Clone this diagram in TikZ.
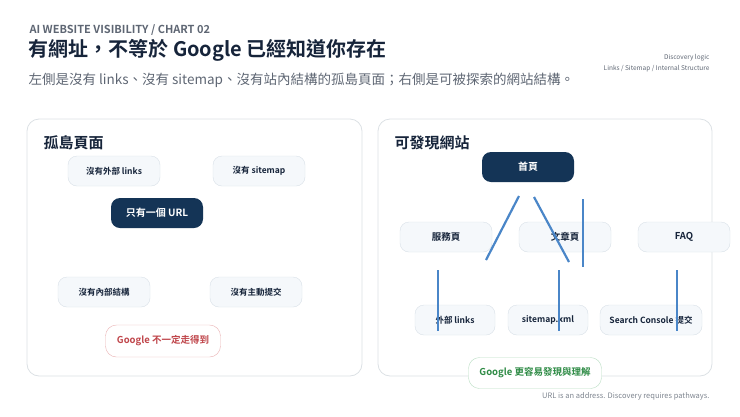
\documentclass[tikz,border=0pt]{standalone}
\usepackage{fontspec}
\setmainfont{Noto Sans CJK TC}
\newfontfamily\cjkb{Noto Sans CJK TC Bold}
\definecolor{ink}{HTML}{16243A}
\definecolor{navy}{HTML}{143456}
\definecolor{greyt}{HTML}{5E6673}
\definecolor{boxf}{HTML}{F5F8FB}
\definecolor{boxd}{HTML}{D9E1E8}
\definecolor{panel}{HTML}{DCE1E5}
\definecolor{redt}{HTML}{C0464B}
\definecolor{redb}{HTML}{EAB3B5}
\definecolor{greent}{HTML}{2E8B45}
\definecolor{greenb}{HTML}{B9DEC3}
\definecolor{linkb}{HTML}{4A86C8}
\tikzset{
 panelbox/.style={draw=panel,line width=0.8pt,rounded corners=12pt,fill=white},
 lightbox/.style={draw=boxd,fill=boxf,rounded corners=9pt,minimum height=30pt,font=\cjkb\fontsize{8.5}{9}\selectfont,text=ink,inner sep=2pt},
 darkbox/.style={fill=navy,rounded corners=9pt,minimum height=30pt,minimum width=92pt,font=\cjkb\fontsize{10}{11}\selectfont,text=white},
 redbox/.style={draw=redb,fill=white,rounded corners=11pt,minimum height=32pt,minimum width=115pt,font=\cjkb\fontsize{9.5}{10}\selectfont,text=redt},
 greenbox/.style={draw=greenb,fill=white,rounded corners=11pt,minimum height=31pt,minimum width=133pt,font=\cjkb\fontsize{9.5}{10}\selectfont,text=greent},
 bluel/.style={draw=linkb,line width=2.2pt},
}
\begin{document}
\begin{tikzpicture}[x=1pt,y=-1pt]
\useasboundingbox (0,0) rectangle (740,416);
\node[anchor=west,text=greyt,font=\cjkb\fontsize{11}{12}\selectfont] (kick) at (26,30) {AI WEBSITE VISIBILITY / CHART 02};
\node[anchor=west,text=ink,font=\cjkb\fontsize{20}{22}\selectfont] (title) at (25,50) {有網址，不等於 Google 已經知道你存在};
\node[anchor=west,text=greyt,font=\fontsize{13.5}{15}\selectfont] (sub) at (25,80) {左側是沒有 links、沒有 sitemap、沒有站內結構的孤島頁面；右側是可被探索的網站結構。};
\node[anchor=east,text=greyt,font=\fontsize{6.5}{7}\selectfont] (r1) at (713,58) {Discovery logic};
\node[anchor=east,text=greyt,font=\fontsize{6.5}{7}\selectfont] (r2) at (713,69) {Links / Sitemap / Internal Structure};
\draw[panelbox] (27,119) rectangle (362,376);
\draw[panelbox] (378,119) rectangle (712,376);
\node[anchor=west,text=ink,font=\cjkb\fontsize{15}{16}\selectfont] (lt) at (40,143) {孤島頁面};
\node[anchor=west,text=ink,font=\cjkb\fontsize{15}{16}\selectfont] (rt) at (391,143) {可發現網站};
\node[lightbox,minimum width=92pt] (a1) at (114,171) {沒有外部 links};
\node[lightbox,minimum width=92pt] (a2) at (259,171) {沒有 sitemap};
\node[darkbox] (url) at (157,213) {只有一個 URL};
\node[lightbox,minimum width=92pt] (a3) at (104,292) {沒有內部結構};
\node[lightbox,minimum width=92pt] (a4) at (256,292) {沒有主動提交};
\node[redbox] (red) at (163,341) {Google 不一定走得到};
\node[darkbox] (home) at (528,167) {首頁};
\node[lightbox,minimum width=92pt,font=\cjkb\fontsize{9.5}{10}\selectfont] (s1) at (446,237) {服務頁};
\node[lightbox,minimum width=92pt,font=\cjkb\fontsize{9.5}{10}\selectfont] (s2) at (565,237) {文章頁};
\node[lightbox,minimum width=92pt,font=\cjkb\fontsize{9.5}{10}\selectfont] (s3) at (684,237) {FAQ};
\node[lightbox,minimum width=80pt] (b1) at (455,320) {外部 links};
\node[lightbox,minimum width=80pt] (b2) at (548,320) {sitemap.xml};
\node[lightbox,minimum width=102pt] (b3) at (651,320) {Search Console 提交};
\node[greenbox] (green) at (535,373) {Google 更容易發現與理解};
\coordinate (l1a) at (519,196); \coordinate (l1b) at (486,260);
\coordinate (l2a) at (534,197); \coordinate (l2b) at (569,262);
\coordinate (l3a) at (583,199); \coordinate (l3b) at (583,267);
\coordinate (l4a) at (438,270); \coordinate (l4b) at (438,331);
\coordinate (l5a) at (559,270); \coordinate (l5b) at (559,331);
\coordinate (l6a) at (677,270); \coordinate (l6b) at (677,331);
\draw[bluel] (l1a) -- (l1b);
\draw[bluel] (l2a) -- (l2b);
\draw[bluel] (l3a) -- (l3b);
\draw[bluel] (l4a) -- (l4b);
\draw[bluel] (l5a) -- (l5b);
\draw[bluel] (l6a) -- (l6b);
\node[anchor=east,text=greyt!80,font=\fontsize{7.5}{8}\selectfont] (foot) at (713,396) {URL is an address. Discovery requires pathways.};
\end{tikzpicture}
\end{document}
